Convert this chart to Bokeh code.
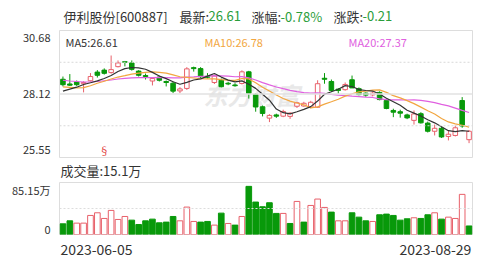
from bokeh.plotting import figure
from bokeh.layouts import column
from bokeh.models import Label, Span, Range1d, ColumnDataSource, FixedTicker
from bokeh.embed import file_html
from bokeh.resources import INLINE
import numpy as np
import pandas as pd

# ---------------- data ----------------
date_labels = ["2023-06-05", "2023-08-29"]
opens = [28.71, 28.52, 28.60, 28.53, 28.65, 29.00, 29.08, 28.98, 29.22, 29.42,
         29.37, 29.04, 28.86, 28.64, 28.80, 28.62, 28.55, 28.24, 28.34, 29.18,
         29.14, 28.83, 28.58, 28.67, 28.55, 28.48, 28.54, 29.01, 28.10, 27.60,
         27.14, 27.27, 27.22, 27.21, 27.62, 27.63, 27.58, 27.58, 28.75, 28.62,
         28.31, 28.29, 28.69, 28.33, 28.15, 28.08, 28.18, 27.85, 27.45, 27.40,
         27.27, 27.05, 27.32, 26.94, 26.61, 26.73, 26.40, 26.44, 27.85, 26.27]
highs = [28.82, 28.92, 28.66, 28.63, 28.96, 29.08, 29.15, 29.67, 29.47, 29.45,
         29.47, 29.08, 28.94, 28.80, 28.86, 28.66, 28.62, 28.39, 29.20, 29.22,
         29.20, 28.96, 28.90, 28.74, 28.61, 28.55, 29.07, 29.05, 28.14, 27.65,
         27.30, 27.32, 27.48, 27.38, 27.80, 27.80, 27.84, 28.67, 28.96, 28.70,
         28.35, 28.58, 28.86, 28.38, 28.18, 28.22, 28.22, 27.90, 27.52, 27.48,
         27.32, 27.45, 27.38, 27.00, 26.88, 26.80, 26.64, 26.84, 27.99, 26.66]
lows = [28.42, 28.44, 28.44, 28.18, 28.62, 28.78, 28.90, 28.94, 29.19, 29.23,
        29.06, 28.82, 28.70, 28.46, 28.62, 28.42, 28.15, 28.15, 28.28, 29.02,
        28.76, 28.74, 28.52, 28.38, 28.47, 28.41, 28.50, 27.93, 27.40, 27.21,
        26.98, 27.15, 27.18, 27.11, 27.55, 27.60, 27.54, 27.55, 28.53, 28.20,
        28.13, 28.25, 28.36, 28.06, 28.00, 28.02, 27.86, 27.50, 27.18, 27.16,
        27.10, 26.88, 26.92, 26.56, 26.44, 26.34, 26.24, 26.40, 26.75, 26.13]
closes = [28.49, 28.47, 28.49, 28.58, 28.82, 28.87, 28.95, 29.10, 29.37, 29.40,
          29.11, 28.87, 28.82, 28.74, 28.67, 28.58, 28.23, 28.32, 29.13, 29.14,
          28.81, 28.79, 28.84, 28.41, 28.52, 28.45, 29.01, 28.14, 27.59, 27.33,
          27.25, 27.22, 27.41, 27.34, 27.76, 27.74, 27.78, 28.53, 28.71, 28.26,
          28.26, 28.50, 28.36, 28.09, 28.07, 28.15, 27.89, 27.53, 27.38, 27.34,
          27.15, 27.31, 26.95, 26.61, 26.73, 26.38, 26.49, 26.75, 26.82, 26.61]
# volume in 万 (10k shares)
volumes = [18.9, 24.2, 20.1, 20.1, 33.7, 38.4, 28.4, 42.6, 26.6, 31.9,
           25.4, 17.7, 24.2, 27.2, 20.7, 21.9, 31.9, 24.2, 48.5, 23.1,
           21.9, 23.1, 16.6, 37.8, 19.5, 16.6, 31.9, 85.15, 57.4, 49.1,
           56.2, 37.3, 37.3, 19.5, 58.5, 21.9, 51.4, 62.7, 47.9, 39.6,
           24.2, 24.2, 38.4, 30.7, 24.2, 23.1, 34.9, 36.1, 33.7, 25.4,
           27.8, 29.6, 28.4, 34.9, 38.4, 27.2, 30.7, 28.4, 71.0, 15.1]
vol_up = [0, 0, 1, 1, 1, 1, 1, 1, 1, 1, 0, 0, 0, 0, 0, 0, 0, 1, 1, 1,
          0, 0, 1, 0, 1, 0, 1, 0, 0, 0, 0, 0, 1, 0, 1, 0, 1, 1, 1, 0,
          1, 1, 0, 0, 0, 1, 0, 0, 0, 0, 0, 1, 0, 0, 1, 0, 1, 1, 1, 0]
# moving-average values before enough history is shown
ma5_head = [28.23, 28.31, 28.39, 28.50]
ma10_head = [28.40, 28.38, 28.36, 28.37, 28.45, 28.55, 28.63, 28.72, 28.80]
ma20_head = [28.67, 28.64, 28.62, 28.60, 28.60, 28.62, 28.65, 28.68, 28.72, 28.75,
             28.77, 28.78, 28.78, 28.78, 28.79, 28.78, 28.77, 28.77, 28.80]
price_ticks = [30.68, 28.12, 25.55]
vol_max_label = "85.15万"
quote = [("伊利股份[600887]", 0), ("最新:", 0), ("26.61", 1), ("涨幅:", 0),
         ("-0.78%", 1), ("涨跌:", 0), ("-0.21", 1)]

# ---------------- styling ----------------
RED = "#e8606a"
GREEN = "#08990a"
TXT_GREEN = "#2a9d3a"
DARK = "#333333"
FONT = "Noto Sans CJK SC"
N = len(closes)
x = np.arange(N) + 0.5
W = 491
LEFT, RIGHT = 59, 19

cs = pd.Series(closes)
def ma(n, head):
    m = cs.rolling(n).mean().to_numpy()
    m[:n - 1] = head
    return m

ma5 = ma(5, ma5_head)
ma10 = ma(10, ma10_head)
ma20 = ma(20, ma20_head)

up = [c >= o for o, c in zip(opens, closes)]
csrc = ColumnDataSource(dict(
    x=x, o=opens, h=highs, l=lows, c=closes,
    top=[max(o, c) for o, c in zip(opens, closes)],
    bottom=[min(o, c) for o, c in zip(opens, closes)],
    col=[RED if u else GREEN for u in up],
    fill=["white" if u else GREEN for u in up],
))
vsrc = ColumnDataSource(dict(
    x=x, v=volumes,
    col=[RED if u else GREEN for u in vol_up],
    fill=["white" if u else GREEN for u in vol_up],
))

def lab(p, text, xx, yy, color=DARK, size="11px", align="left", xu="screen", **kw):
    p.add_layout(Label(x=xx, y=yy, x_units=xu, y_units="screen", text=text, text_font=FONT,
                       text_font_size=size, text_color=color, text_align=align,
                       text_baseline="middle", **kw))

def strip(h):
    f = figure(width=W, height=h, x_range=Range1d(0, 1), y_range=Range1d(0, 1),
               output_backend="svg", toolbar_location=None,
               min_border_left=LEFT, min_border_right=RIGHT, min_border_top=0, min_border_bottom=0)
    f.axis.visible = False
    f.grid.visible = False
    f.outline_line_color = None
    return f

# ---------------- title row (frame starts at x=LEFT) ----------------
p0 = strip(29)
qx = [63, 179, 208, 251, 280, 333, 362]
for (t, g), xx in zip(quote, qx):
    lab(p0, t, xx - LEFT, 29 - 15.7, TXT_GREEN if g else DARK, "13px")

# ---------------- price panel ----------------
xr = Range1d(0, N)
p1 = figure(width=W, height=130, x_range=xr, y_range=Range1d(price_ticks[2], price_ticks[0]),
            output_backend="svg", toolbar_location=None,
            min_border_left=LEFT, min_border_right=RIGHT, min_border_top=1, min_border_bottom=2)
p1.xaxis.visible = False
p1.grid.visible = False
p1.outline_line_color = "#dddddd"
rng = price_ticks[0] - price_ticks[2]
px_per = 127 / rng
ytick_pos = [price_ticks[0] - 7.7 / px_per, price_ticks[1], price_ticks[2] + 8 / px_per]
ytick_pos = [round(v, 2) for v in ytick_pos]
p1.yaxis.ticker = FixedTicker(ticks=ytick_pos)
p1.yaxis.major_label_overrides = {v: "%.2f" % t for v, t in zip(ytick_pos, price_ticks)}
for ax in [p1.yaxis]:
    ax.axis_line_color = None
    ax.major_tick_line_color = None
    ax.minor_tick_line_color = None
    ax.major_label_standoff = 3
    ax.major_label_text_font = FONT
    ax.major_label_text_font_size = "11px"
    ax.major_label_text_color = DARK

p1.add_layout(Span(location=price_ticks[0] - rng / 4, dimension="width", line_color="#d8d8d8", line_dash="2 2"))
p1.add_layout(Span(location=price_ticks[0] - rng / 2, dimension="width", line_color="#e2e2e2", line_width=1.5))
p1.add_layout(Span(location=price_ticks[0] - 3 * rng / 4, dimension="width", line_color="#d8d8d8", line_dash="2 2"))

lab(p1, "东方财富", 192, 63, "#e8e8e8", "24px", align="center",
    text_font_style="bold italic", level="underlay")

p1.segment(x0="x", y0="l", x1="x", y1="h", line_color="col", line_width=1, source=csrc)
p1.vbar(x="x", width=0.66, top="top", bottom="bottom", fill_color="fill", line_color="col",
        line_width=1, source=csrc)
p1.line(x, ma20, line_color="#e060e0", line_width=1.2)
p1.line(x, ma10, line_color="#f2a640", line_width=1.2)
p1.line(x, ma5, line_color="#333333", line_width=1.2)

lab(p1, "MA5:%.2f" % round(ma5[-1], 2), 6, 116, DARK)
lab(p1, "MA10:%.2f" % round(ma10[-1], 2), 145, 116, "#f2a640")
lab(p1, "MA20:%.2f" % round(ma20[-1], 2), 289, 116, "#e060e0")
lab(p1, "§", x[6], 7, "#e03030", "10px", align="center", xu="data")

# ---------------- gap row ----------------
pg = strip(22)
lab(pg, "成交量:%.1f万" % volumes[-1], 1, 22 - 10.5, DARK, "13px")

# ---------------- volume panel ----------------
vtop = 92
p2 = figure(width=W, height=79, x_range=xr, y_range=Range1d(0, vtop),
            output_backend="svg", toolbar_location=None,
            min_border_left=LEFT, min_border_right=RIGHT, min_border_top=1, min_border_bottom=26)
p2.grid.visible = False
p2.outline_line_color = "#dddddd"
vpx = 52 / vtop
vtick = [round(5 / vpx, 2), round(vtop - 7.3 / vpx, 2)]
p2.yaxis.ticker = FixedTicker(ticks=vtick)
p2.yaxis.major_label_overrides = {vtick[0]: "0", vtick[1]: vol_max_label}
xt = [round((96 - LEFT) / (413 / N), 2), round((435 - LEFT) / (413 / N), 2)]
p2.xaxis.ticker = FixedTicker(ticks=xt)
p2.xaxis.major_label_overrides = {xt[0]: date_labels[0], xt[1]: date_labels[1]}
for ax in [p2.yaxis, p2.xaxis]:
    ax.axis_line_color = None
    ax.major_tick_line_color = None
    ax.minor_tick_line_color = None
    ax.major_label_text_font = FONT
    ax.major_label_text_color = DARK
p2.yaxis.major_label_standoff = 3
p2.yaxis.major_label_text_font_size = "11px"
p2.xaxis.major_label_standoff = 3
p2.xaxis.major_label_text_font_size = "14px"

p2.add_layout(Span(location=vtop / 2, dimension="width", line_color="#dddddd", line_dash="2 2"))
p2.vbar(x="x", width=0.82, top="v", bottom=0, fill_color="fill", line_color="col",
        line_width=1, source=vsrc)

layout = column(p0, p1, pg, p2, spacing=0)
open("out.html", "w").write(file_html(layout, INLINE))
